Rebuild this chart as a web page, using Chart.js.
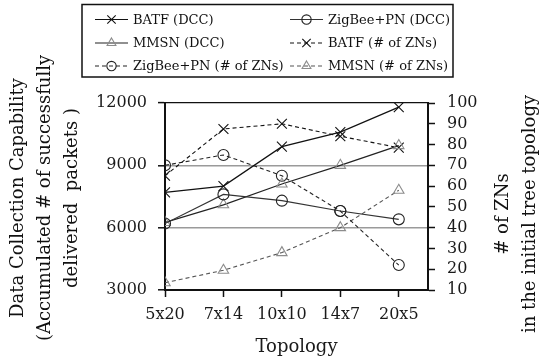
<!DOCTYPE html>
<html>
<head>
<meta charset="utf-8">
<script src="https://cdn.jsdelivr.net/npm/chart.js@4"></script>
<style>
html, body { margin: 0; padding: 0; background: #fff; }
</style>
</head>
<body>
<canvas id="lineChart" width="546" height="361"></canvas>
<script>
// values
const topologies = ["5x20", "7x14", "10x10", "14x7", "20x5"];
const batfDcc = [7700, 8000, 9900, 10600, 11800];
const zigbeeDcc = [6200, 7600, 7300, 6800, 6400];
const mmsnDcc = [6250, 7100, 8100, 9000, 9950];
const batfZns = [65, 87.5, 90, 84, 78.5];
const zigbeeZns = [70, 75, 65, 48, 22];
const mmsnZns = [13.5, 19.5, 28, 40, 58];

const leftTitle = ["Data Collection Capability", "(Accumulated # of successfully", "delivered  packets )"];
const rightTitle = ["# of ZNs", "in the initial tree topology"];

const FONT = "'DejaVu Serif', serif";
Chart.defaults.font.family = FONT;
Chart.defaults.color = '#1a1a1a';

function series(vals) {
    return vals.map((v, i) => ({ x: i, y: v }));
}

// legend box drawn by hand so the two columns line up
const legendBox = {
    id: 'legendBox',
    afterDraw(chart) {
        const ctx = chart.ctx;
        ctx.save();
        ctx.strokeStyle = '#111';
        ctx.lineWidth = 1.5;
        ctx.strokeRect(82, 4.5, 371, 72.5);
        const cols = [95, 290], rows = [19.5, 43, 66];
        chart.data.datasets.forEach((ds, i) => {
            const x = cols[i % 2], y = rows[Math.floor(i / 2)];
            ctx.strokeStyle = ds.borderColor;
            ctx.lineWidth = ds.borderWidth;
            ctx.setLineDash(ds.borderDash || []);
            ctx.beginPath();
            ctx.moveTo(x, y);
            ctx.lineTo(x + 33, y);
            ctx.stroke();
            ctx.setLineDash([]);
            ctx.strokeStyle = ds.pointBorderColor;
            ctx.fillStyle = 'rgba(0,0,0,0)';
            ctx.lineWidth = ds.pointBorderWidth;
            Chart.helpers.drawPoint(ctx, {
                pointStyle: ds.pointStyle,
                radius: ds.pointRadius * 0.85,
                rotation: 0,
                borderWidth: ds.pointBorderWidth
            }, x + 16.5, y);
            ctx.fillStyle = '#111';
            ctx.font = "13px " + FONT;
            ctx.textAlign = 'left';
            ctx.textBaseline = 'middle';
            ctx.fillText(ds.label, x + 38, y + 1);
        });
        ctx.restore();
    }
};

// rotated multi-line y titles
const axisTitles = {
    id: 'axisTitles',
    afterDraw(chart) {
        const ctx = chart.ctx;
        ctx.save();
        ctx.fillStyle = '#111';
        ctx.font = "18px " + FONT;
        ctx.textAlign = 'center';
        ctx.textBaseline = 'middle';
        const draw = (lines, xs, cy) => lines.forEach((t, i) => {
            ctx.save();
            ctx.translate(xs[i], cy);
            ctx.rotate(-Math.PI / 2);
            ctx.fillText(t, 0, 0);
            ctx.restore();
        });
        draw(leftTitle, [18, 45, 72], 198);
        draw(rightTitle, [503, 530], 214);
        ctx.restore();
    }
};

const CHART = document.getElementById("lineChart");
let lineChart = new Chart(CHART, {
    type: 'line',
    data: {
        datasets: [
            {
                label: "BATF (DCC)",
                data: series(batfDcc),
                yAxisID: 'y',
                borderColor: '#111',
                borderWidth: 1.2,
                pointStyle: 'crossRot',
                pointRadius: 7,
                pointBorderColor: '#111',
                pointBackgroundColor: 'rgba(0,0,0,0)',
                pointBorderWidth: 1.1
            },
            {
                label: "ZigBee+PN (DCC)",
                data: series(zigbeeDcc),
                yAxisID: 'y',
                borderColor: '#333',
                borderWidth: 1.1,
                pointStyle: 'circle',
                pointRadius: 5.5,
                pointBorderColor: '#222',
                pointBackgroundColor: 'rgba(0,0,0,0)',
                pointBorderWidth: 1.1
            },
            {
                label: "MMSN (DCC)",
                data: series(mmsnDcc),
                yAxisID: 'y',
                borderColor: '#222',
                borderWidth: 1.2,
                pointStyle: 'triangle',
                pointRadius: 6,
                pointBorderColor: '#8c8c8c',
                pointBackgroundColor: 'rgba(0,0,0,0)',
                pointBorderWidth: 1.1
            },
            {
                label: "BATF (# of ZNs)",
                data: series(batfZns),
                yAxisID: 'y1',
                borderColor: '#111',
                borderWidth: 1.1,
                borderDash: [4, 3],
                pointStyle: 'crossRot',
                pointRadius: 7,
                pointBorderColor: '#111',
                pointBackgroundColor: 'rgba(0,0,0,0)',
                pointBorderWidth: 1.1
            },
            {
                label: "ZigBee+PN (# of ZNs)",
                data: series(zigbeeZns),
                yAxisID: 'y1',
                borderColor: '#222',
                borderWidth: 1.1,
                borderDash: [4, 3],
                pointStyle: 'circle',
                pointRadius: 5.5,
                pointBorderColor: '#222',
                pointBackgroundColor: 'rgba(0,0,0,0)',
                pointBorderWidth: 1.1
            },
            {
                label: "MMSN (# of ZNs)",
                data: series(mmsnZns),
                yAxisID: 'y1',
                borderColor: '#555',
                borderWidth: 1.1,
                borderDash: [4, 3],
                pointStyle: 'triangle',
                pointRadius: 6,
                pointBorderColor: '#8c8c8c',
                pointBackgroundColor: 'rgba(0,0,0,0)',
                pointBorderWidth: 1.1
            }
        ]
    },
    options: {
        responsive: false,
        animation: false,
        layout: { padding: { top: 103, left: 0, right: 0, bottom: 0 } },
        plugins: { legend: { display: false }, tooltip: { enabled: false } },
        scales: {
            x: {
                type: 'linear',
                min: 0,
                max: 4.5,
                afterBuildTicks: s => { s.ticks = topologies.map((t, i) => ({ value: i })); },
                afterFit: s => { s.height = 71; },
                ticks: {
                    callback: v => topologies[v],
                    font: { size: 16 },
                    padding: 8,
                    maxRotation: 0,
                    autoSkip: false
                },
                grid: { drawOnChartArea: false, tickLength: 7, tickColor: '#111', tickWidth: 1.5 },
                border: { color: '#111', width: 2 },
                title: { display: true, text: 'Topology', font: { size: 18 }, padding: { top: 0, bottom: 3 } }
            },
            y: {
                position: 'left',
                min: 3000,
                max: 12000,
                afterFit: s => { s.width = 165; },
                ticks: { stepSize: 3000, font: { size: 16 }, padding: 11, callback: v => String(v) },
                grid: {
                    color: c => (c.tick && (c.tick.value === 12000 || c.tick.value === 3000)) ? '#111' : '#9a9a9a',
                    lineWidth: c => (c.tick && c.tick.value === 12000) ? 1.2 : 1.6,
                    tickLength: 7,
                    tickColor: '#111',
                    tickWidth: 1.5
                },
                border: { color: '#111', width: 2 }
            },
            y1: {
                position: 'right',
                min: 10,
                max: 100,
                afterFit: s => { s.width = 118; },
                ticks: { stepSize: 10, font: { size: 16 }, padding: 12, autoSkip: false, callback: v => String(v) },
                grid: { drawOnChartArea: false, tickLength: 7, tickColor: '#111', tickWidth: 1.5 },
                border: { color: '#111', width: 2 }
            }
        }
    },
    plugins: [legendBox, axisTitles]
});
</script>
</body>
</html>
